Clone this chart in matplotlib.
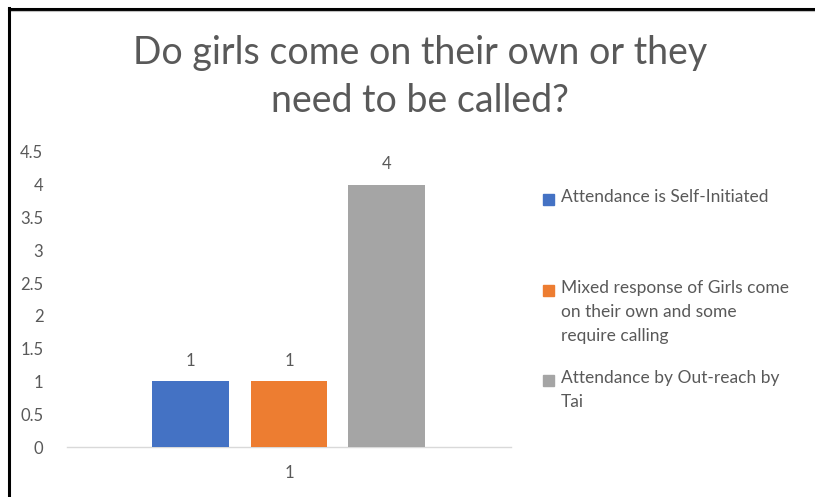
import matplotlib.pyplot as plt
from matplotlib.patches import Rectangle
from matplotlib.lines import Line2D

plt.rcParams['font.family'] = ['Lato', 'DejaVu Sans']

title = "Do girls come on their own or they\nneed to be called?"
categories = ["1"]
series_names = [
    "Attendance is Self-Initiated",
    "Mixed response of Girls come\non their own and some\nrequire calling",
    "Attendance by Out-reach by\nTai",
]
series_values = [[1], [1], [4]]
series_colors = ["#4472C4", "#ED7D31", "#A5A5A5"]
yticks = [0, 0.5, 1, 1.5, 2, 2.5, 3, 3.5, 4, 4.5]
ytick_labels = ["0", "0.5", "1", "1.5", "2", "2.5", "3", "3.5", "4", "4.5"]

text_color = "#595959"
W, H = 815, 497
fig = plt.figure(figsize=(W / 100, H / 100), dpi=100)
ax = fig.add_axes([67 / W, 1 - 447 / H, 444 / W, 295 / H])

bar_w = 0.173
offsets = [-0.222, 0.0, 0.219]
x0 = 0
for vals, off, col in zip(series_values, offsets, series_colors):
    b = ax.bar([x0 + off], vals, width=bar_w, color=col, zorder=3)
    ax.bar_label(b, labels=[f"{v:g}" for v in vals], padding=9,
                 fontsize=12, color=text_color)

ax.set_xlim(-0.5, 0.5)
ax.set_ylim(0, 4.5)
ax.set_yticks(yticks)
ax.set_yticklabels(ytick_labels)
ax.set_xticks([x0])
ax.set_xticklabels(categories)
ax.tick_params(axis='y', length=0, pad=17, labelsize=12, labelcolor=text_color)
ax.tick_params(axis='x', length=0, pad=13, labelsize=12, labelcolor=text_color)
for s in ['top', 'right', 'left']:
    ax.spines[s].set_visible(False)
ax.spines['bottom'].set_color('#D9D9D9')
ax.spines['bottom'].set_linewidth(1.0)
ax.patch.set_alpha(0)

fig.text(420 / W, 1 - 77 / H, title, ha='center', va='center', fontsize=27,
         color=text_color, linespacing=1.4)

# legend drawn beside the plot
legend_rows = [199, 290, 380]
for name, col, yrow in zip(series_names, series_colors, legend_rows):
    fig.patches.append(Rectangle((543 / W, 1 - (yrow + 6) / H), 11 / W, 11 / H,
                                 transform=fig.transFigure, color=col))
    fig.text(561 / W, 1 - (yrow - 10) / H, name, ha='left', va='top',
             fontsize=12.5, color=text_color, linespacing=1.62)

# frame around the chart
fig.add_artist(Line2D([9 / W, 1], [1 - 9 / H, 1 - 9 / H], color='black', lw=2.2,
                      transform=fig.transFigure))
fig.add_artist(Line2D([9 / W, 1], [1 - 11 / H, 1 - 11 / H], color='#BFBFBF', lw=0.8,
                      transform=fig.transFigure))
fig.add_artist(Line2D([9 / W, 9 / W], [0, 1 - 8 / H], color='black', lw=2.2,
                      transform=fig.transFigure))

fig.savefig("out.png", dpi=100)
